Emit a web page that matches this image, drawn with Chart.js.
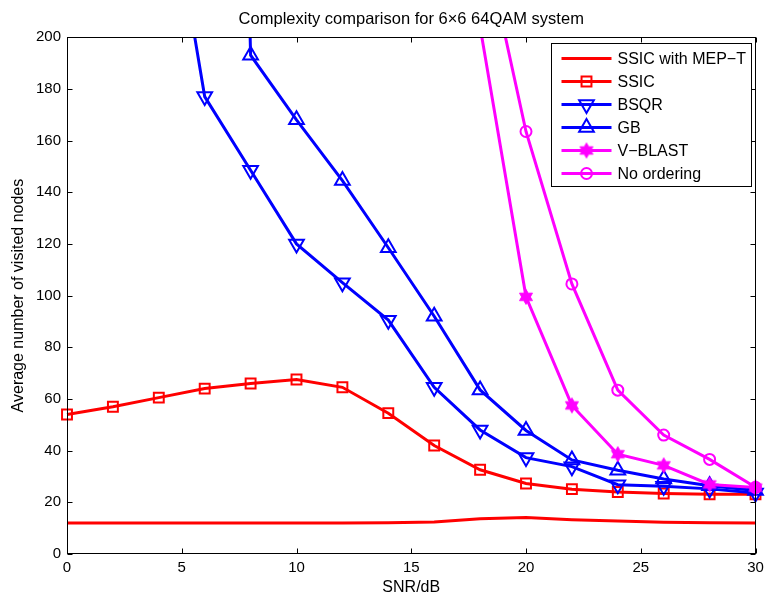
<!DOCTYPE html>
<html>
<head>
<meta charset="utf-8">
<title>Complexity comparison</title>
<script src="https://cdn.jsdelivr.net/npm/chart.js@4/dist/chart.umd.min.js"></script>
<style>
  html, body { margin: 0; padding: 0; background: #fff; }
  canvas { display: block; }
</style>
</head>
<body>
<canvas id="complexityChart" width="766" height="597"></canvas>
<script>
// SNR points (dB)
const snrDb = [0, 2, 4, 6, 8, 10, 12, 14, 16, 18, 20, 22, 24, 26, 28, 30];

// average number of visited nodes per detector (null = not simulated)
const ssicMepT = [12, 12, 12, 12, 12, 12, 12, 12.1, 12.4, 13.6, 14.1, 13.3, 12.8, 12.3, 12.1, 12];
const ssic = [54, 57, 60.5, 64, 66, 67.5, 64.5, 54.5, 42, 32.6, 27.3, 25.1, 24, 23.4, 23.1, 23.1];
const bsqr = [null, null, 283, 177, 148.5, 120, 105, 90.5, 64.5, 48, 37.3, 33.8, 26.8, 26.2, 25.2, 23.6];
const gb = [null, null, null, 900, 193, 168, 144.5, 118.5, 92, 63.5, 47.8, 36.4, 32.4, 29, 26.4, 24.6];
const vBlast = [null, null, null, null, null, null, null, null, null, 204, 99.5, 57.5, 38.6, 34.3, 26.9, 25.7];
const noOrdering = [null, null, null, null, null, null, null, null, null, 245, 163.5, 104.5, 63.4, 46, 36.6, 25.8];

const seriesNames = ["SSIC with MEP\u2212T", "SSIC", "BSQR", "GB", "V\u2212BLAST", "No ordering"];

const xTicksStep = 5;
const yTicksStep = 20;
const yMax = 200;

const RED = "#ff0000";
const BLUE = "#0000ff";
const MAGENTA = "#ff00ff";
const FONT = "'Liberation Sans', Arial, Helvetica, sans-serif";

Chart.defaults.font.family = FONT;
Chart.defaults.color = "#000";

// hexagram marker (MATLAB 'h')
function makeHexagram(color) {
    const c = document.createElement("canvas");
    c.width = 18;
    c.height = 18;
    const g = c.getContext("2d");
    const cx = 9, cy = 9, R = 7.5, r = 4.3;
    g.beginPath();
    for (let i = 0; i < 12; i++) {
        const a = -Math.PI / 2 + i * Math.PI / 6;
        const rad = i % 2 === 0 ? R : r;
        const px = cx + rad * Math.cos(a);
        const py = cy + rad * Math.sin(a);
        if (i === 0) g.moveTo(px, py); else g.lineTo(px, py);
    }
    g.closePath();
    g.fillStyle = color;
    g.fill();
    g.lineWidth = 1;
    g.strokeStyle = color;
    g.stroke();
    return c;
}
const hexagram = makeHexagram(MAGENTA);

function toPoints(values) {
    return snrDb.map((x, i) => ({ x: x, y: values[i] }));
}

function line(label, values, color, style, radius, rotation, order) {
    return {
        label: label,
        data: toPoints(values),
        borderColor: color,
        backgroundColor: "transparent",
        borderWidth: 3,
        pointStyle: style,
        pointRadius: radius,
        pointRotation: rotation,
        pointBorderWidth: 2,
        pointBorderColor: color,
        pointBackgroundColor: "transparent",
        tension: 0,
        spanGaps: false,
        clip: { left: 10, right: 10, top: 0, bottom: 10 },
        order: order
    };
}

const datasets = [
    line(seriesNames[0], ssicMepT, RED, "circle", 0, 0, 5),
    line(seriesNames[1], ssic, RED, "rect", 7, 0, 4),
    line(seriesNames[2], bsqr, BLUE, "triangle", 8.5, 180, 3),
    line(seriesNames[3], gb, BLUE, "triangle", 8.5, 0, 2),
    line(seriesNames[4], vBlast, MAGENTA, hexagram, 8, 0, 1),
    line(seriesNames[5], noOrdering, MAGENTA, "circle", 5.5, 0, 0)
];

// axes box with inward tick marks on all four sides
const axesBox = {
    id: "axesBox",
    afterDatasetsDraw(chart) {
        const { ctx, chartArea: a, scales } = chart;
        const L = Math.round(a.left) + 0.5, R = Math.round(a.right) - 0.5;
        const T = Math.round(a.top) + 0.5, B = Math.round(a.bottom) - 0.5;
        const len = 5;
        ctx.save();
        ctx.strokeStyle = "#000";
        ctx.lineWidth = 1;
        ctx.strokeRect(L, T, R - L, B - T);
        ctx.beginPath();
        scales.x.ticks.forEach(t => {
            const px = Math.round(scales.x.getPixelForValue(t.value)) + 0.5;
            ctx.moveTo(px, B); ctx.lineTo(px, B - len);
            ctx.moveTo(px, T); ctx.lineTo(px, T + len);
        });
        scales.y.ticks.forEach(t => {
            const py = Math.round(scales.y.getPixelForValue(t.value)) + 0.5;
            ctx.moveTo(L, py); ctx.lineTo(L + len, py);
            ctx.moveTo(R, py); ctx.lineTo(R - len, py);
        });
        ctx.stroke();
        ctx.restore();
    }
};

// MATLAB-style legend: line sample with marker, boxed in the north-east corner
const boxedLegend = {
    id: "boxedLegend",
    afterDraw(chart) {
        const { ctx, chartArea: a } = chart;
        const w = 200, rowH = 23, h = 14 + rowH * datasets.length - 9;
        const right = Math.round(a.right) - 5 + 0.5;
        const left = right - w;
        const top = Math.round(a.top) + 6 + 0.5;
        ctx.save();
        ctx.fillStyle = "#fff";
        ctx.fillRect(left, top, w, h);
        ctx.strokeStyle = "#000";
        ctx.lineWidth = 1;
        ctx.strokeRect(left, top, w, h);
        ctx.font = "16px " + FONT;
        ctx.textBaseline = "middle";
        chart.data.datasets.forEach((ds, i) => {
            const y = top + 15 + i * rowH;
            ctx.strokeStyle = ds.borderColor;
            ctx.lineWidth = ds.borderWidth;
            ctx.beginPath();
            ctx.moveTo(left + 10, y);
            ctx.lineTo(left + 60, y);
            ctx.stroke();
            if (ds.pointRadius > 0) {
                ctx.strokeStyle = ds.pointBorderColor;
                ctx.fillStyle = "transparent";
                ctx.lineWidth = ds.pointBorderWidth;
                Chart.helpers.drawPoint(ctx, {
                    pointStyle: ds.pointStyle,
                    rotation: ds.pointRotation,
                    radius: ds.pointRadius,
                    borderWidth: ds.pointBorderWidth
                }, left + 35, y);
            }
            ctx.fillStyle = "#000";
            ctx.fillText(ds.label, left + 66, y + 1);
        });
        ctx.restore();
    }
};

const ctx = document.getElementById("complexityChart").getContext("2d");
new Chart(ctx, {
    type: "line",
    data: { datasets: datasets },
    options: {
        responsive: false,
        animation: false,
        devicePixelRatio: 1,
        layout: { padding: { left: 0, right: 9, top: 0, bottom: 0 } },
        plugins: {
            legend: { display: false },
            tooltip: { enabled: false },
            title: {
                display: true,
                fullSize: false,
                text: "Complexity comparison for 6\u00d76 64QAM system",
                font: { size: 16.5, weight: "normal", lineHeight: 1.1 },
                color: "#000",
                padding: { top: 10, bottom: 9 }
            }
        },
        scales: {
            x: {
                type: "linear",
                min: 0,
                max: 30,
                afterFit(scale) {
                    scale.height = 43;
                    // let the last tick label run past the plot edge
                    scale.paddingRight = 0;
                    scale.paddingLeft = 0;
                },
                ticks: { stepSize: xTicksStep, font: { size: 15 }, color: "#000", padding: 5, maxRotation: 0 },
                grid: { drawOnChartArea: false, drawTicks: false },
                border: { display: false },
                title: { display: true, text: "SNR/dB", font: { size: 16 }, color: "#000", padding: { top: 3, bottom: 0 } }
            },
            y: {
                min: 0,
                max: yMax,
                afterFit(scale) { scale.width = 67; },
                ticks: { stepSize: yTicksStep, font: { size: 15 }, color: "#000", padding: 6 },
                grid: { drawOnChartArea: false, drawTicks: false },
                border: { display: false },
                title: { display: true, text: "Average number of visited nodes", font: { size: 16 }, color: "#000", padding: { top: 9, bottom: 0 } }
            }
        }
    },
    plugins: [axesBox, boxedLegend]
});
</script>
</body>
</html>
